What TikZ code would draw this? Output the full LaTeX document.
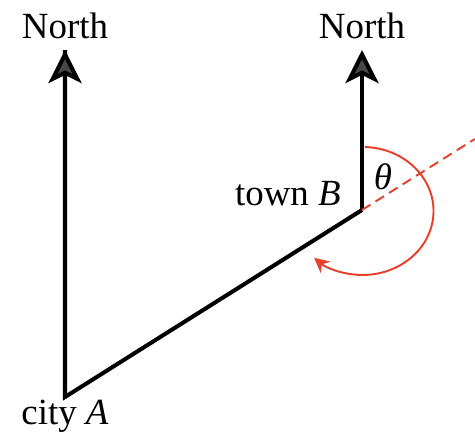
\documentclass[tikz,border=0pt]{standalone}
\usepackage{fontspec}
\setmainfont{Liberation Serif}
\usetikzlibrary{arrows.meta,calc,positioning}
\definecolor{bearred}{RGB}{232,62,42}

\begin{document}
\begin{tikzpicture}[
  font=\fontsize{21}{25}\selectfont,
  road/.style={line width=2.3pt},
  northarr/.style={-{Stealth[length=0.66cm, width=0.66cm, inset=0.16cm, fill=black!72]}, line width=2.3pt},
  bearing/.style={bearred, line width=1.1pt},
  lbl/.style={inner sep=0pt},
]
  \useasboundingbox (0,0) rectangle (9.5,8.68);

  % ===================== POINTS =====================
  \coordinate (A) at (1.30,0.74);
  \coordinate (B) at (7.24,4.48);
  \coordinate (nA) at (1.30,7.68);
  \coordinate (nB) at (7.24,7.68);
  \coordinate (ext) at ($(A)!1.38!(B)$);

  % ===================== LINES =====================
  \draw[road, line join=miter] (nA) -- (A) -- (B);
  \draw[northarr] (A) -- (nA);
  \draw[northarr] (B) -- (nB);
  \draw[bearing, dashed, dash pattern=on 0.2cm off 0.12cm] (B) -- (ext);

  % Bearing arc, clockwise from north
  \draw[bearing, -{Stealth[length=0.3cm, width=0.3cm]}]
    ($(B)+(0.06,1.26)$) arc[start angle=88, end angle=-133, x radius=1.42cm, y radius=1.28cm];

  % ===================== LABELS =====================
  \node[lbl, above=0.22cm of nA] (lnA) {North};
  \node[lbl, above=0.22cm of nB] (lnB) {North};
  \node[lbl, below=0.06cm of A] (lA) {city \textit{A}};
  \node[lbl, anchor=base east] (lB) at ($(B)+(-0.42,0.1)$) {town \textit{B}};
  \node[lbl] (th) at ($(B)+(0.42,0.66)$) {\textit{θ}};
\end{tikzpicture}
\end{document}
